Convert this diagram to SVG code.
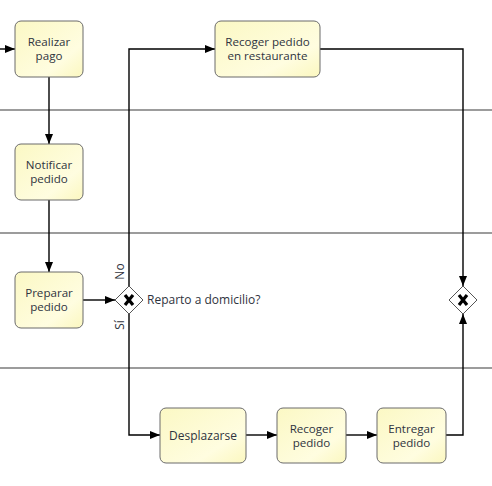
<svg xmlns="http://www.w3.org/2000/svg" width="492" height="486" viewBox="0 0 492 486">
<defs>
<linearGradient id="g" x1="0" y1="0" x2="1" y2="1">
<stop offset="0" stop-color="#fbf8c4"/>
<stop offset="0.7" stop-color="#fffde0"/>
<stop offset="1" stop-color="#fbf7bf"/>
</linearGradient>
<marker id="arr" viewBox="0 0 10 8" refX="10" refY="4" markerWidth="10" markerHeight="8" markerUnits="userSpaceOnUse" orient="auto">
<path d="M0,0 L10,4 L0,8 Z" fill="#000"/>
</marker>
</defs>
<style>
.task{fill:url(#g);stroke:#6b6b6b;stroke-width:1}
.t{font-family:"Open Sans","DejaVu Sans",sans-serif;font-size:12px;fill:#2f3440;text-anchor:middle}
.t2{font-family:"Open Sans","DejaVu Sans",sans-serif;font-size:11.6px;fill:#2f3440;text-anchor:middle}
.lbl{font-family:"Open Sans","DejaVu Sans",sans-serif;font-size:12px;fill:#2f3440}
.lane{stroke:#3a3a3a;stroke-width:1.2;fill:none}
.c{stroke:#000;stroke-width:1.4;fill:none;marker-end:url(#arr)}
.gw{fill:#fff;stroke:#555;stroke-width:1}
.x{stroke:#000;stroke-width:3.2;stroke-linecap:butt}
</style>
<rect width="492" height="486" fill="#fff"/>
<g id="lanes">
<line class="lane" x1="0" y1="110" x2="492" y2="110"/>
<line class="lane" x1="0" y1="233" x2="492" y2="233"/>
<line class="lane" x1="0" y1="368" x2="492" y2="368"/>
</g>
<g id="connectors">
<path class="c" d="M0,49 H15"/>
<path class="c" d="M49,77 V144"/>
<path class="c" d="M49,200 V272"/>
<path class="c" d="M83,300 H115"/>
<path class="c" d="M129,286 V49 H215"/>
<path class="c" d="M129,314 V435 H160"/>
<path class="c" d="M320,49 H463 V286"/>
<path class="c" d="M246,435 H277"/>
<path class="c" d="M346,435 H377"/>
<path class="c" d="M446,435 H463 V314"/>
</g>
<g id="realizar-pago">
<rect class="task" x="15" y="21" width="68" height="56" rx="6"/>
<text class="t2" x="49" y="46.2">Realizar<tspan x="49" dy="14">pago</tspan></text>
</g>
<g id="notificar-pedido">
<rect class="task" x="15" y="144" width="68" height="56" rx="6"/>
<text class="t2" x="49" y="169.2">Notificar<tspan x="49" dy="14">pedido</tspan></text>
</g>
<g id="preparar-pedido">
<rect class="task" x="15" y="272" width="68" height="56" rx="6"/>
<text class="t2" x="49" y="297.2">Preparar<tspan x="49" dy="14">pedido</tspan></text>
</g>
<g id="recoger-restaurante">
<rect class="task" x="215" y="21" width="105" height="56" rx="6"/>
<text class="t2" x="267.5" y="46.2">Recoger pedido<tspan x="267.5" dy="14">en restaurante</tspan></text>
</g>
<g id="desplazarse">
<rect class="task" x="160" y="408" width="86" height="55" rx="6"/>
<text class="t" x="203" y="440">Desplazarse</text>
</g>
<g id="recoger-pedido">
<rect class="task" x="277" y="408" width="69" height="55" rx="6"/>
<text class="t2" x="311.5" y="433.2">Recoger<tspan x="311.5" dy="14">pedido</tspan></text>
</g>
<g id="entregar-pedido">
<rect class="task" x="377" y="408" width="69" height="55" rx="6"/>
<text class="t2" x="411.5" y="433.2">Entregar<tspan x="411.5" dy="14">pedido</tspan></text>
</g>
<g id="gateway-reparto">
<path class="gw" d="M129,286 L143,300 L129,314 L115,300 Z"/>
<path class="x" d="M125,295 L133,305 M133,295 L125,305"/>
<text class="lbl" x="147" y="304">Reparto a domicilio?</text>
<text class="t" transform="translate(124,271.5) rotate(-90)">No</text>
<text class="t" transform="translate(124,325) rotate(-90)">Sí</text>
</g>
<g id="gateway-merge">
<path class="gw" d="M463,286 L477,300 L463,314 L449,300 Z"/>
<path class="x" d="M459,295 L467,305 M467,295 L459,305"/>
</g>
</svg>
